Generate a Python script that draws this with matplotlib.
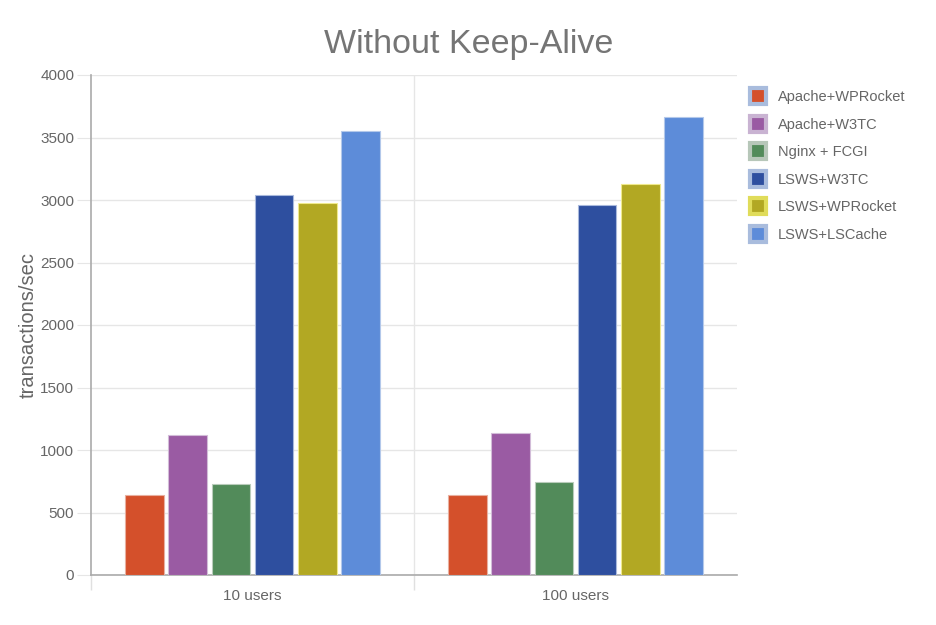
import matplotlib
matplotlib.use("Agg")
import matplotlib.pyplot as plt
from matplotlib.lines import Line2D
import numpy as np

plt.rcParams['font.family'] = ['Liberation Sans', 'DejaVu Sans']

categories = ["10 users", "100 users"]
series_names = ["Apache+WPRocket", "Apache+W3TC", "Nginx + FCGI",
                "LSWS+W3TC", "LSWS+WPRocket", "LSWS+LSCache"]
values = {
    "Apache+WPRocket": [640, 640],
    "Apache+W3TC": [1120, 1135],
    "Nginx + FCGI": [732, 744],
    "LSWS+W3TC": [3040, 2960],
    "LSWS+WPRocket": [2980, 3130],
    "LSWS+LSCache": [3552, 3664],
}
yticks = [0, 500, 1000, 1500, 2000, 2500, 3000, 3500, 4000]

colors = ["#d4502b", "#9a5ba3", "#528b5a", "#2e4f9f", "#b2a823", "#5d8cd9"]
edge_colors = ["#e8b0a0", "#d2bcd8", "#b9ccbb", "#a9b9dc", "#efe98c", "#b3c8ea"]
legend_edges = ["#a9bcdd", "#c9b3d2", "#b7c7b9", "#a9bcdd", "#e0dc5a", "#a9bcdd"]

fig = plt.figure(figsize=(9.37, 6.25), dpi=100)
ax = fig.add_axes([91/937, 1-575/625, (737-91)/937, (575-75)/625])

slot = 0.134
bw = 0.119
x = np.arange(len(categories))
n = len(series_names)
for i, name in enumerate(series_names):
    off = (i - (n-1)/2) * slot
    ax.bar(x + off, values[name], width=bw, color=colors[i],
           edgecolor=edge_colors[i], linewidth=0.8, zorder=3)

ax.set_xlim(-0.5, 1.5)
ax.set_ylim(0, 4000)
ax.set_yticks(yticks)
ax.set_yticklabels([str(t) for t in yticks])
ax.yaxis.grid(True, color="#e6e6e6", linewidth=1, zorder=0)
ax.axvline(0.5, color="#e6e6e6", linewidth=1, zorder=0)
ax.tick_params(axis='y', length=10, color="#e6e6e6", labelcolor="#666666",
               labelsize=11, pad=2)

ax.set_xticks([-0.5, 0.5])
ax.set_xticklabels(["", ""])
ax.tick_params(axis='x', length=11, color="#e0e0e0", width=1)
for xi, c in zip(x, categories):
    ax.text(xi, -0.043, c, transform=ax.get_xaxis_transform(),
            ha='center', va='center', fontsize=11, color="#666666")

for s in ['top', 'right']:
    ax.spines[s].set_visible(False)
ax.spines['left'].set_color("#aaaaaa")
ax.spines['bottom'].set_color("#aaaaaa")
ax.spines['left'].set_linewidth(1.2)
ax.spines['bottom'].set_linewidth(1.2)

ax.set_ylabel("transactions/sec", fontsize=14.5, color="#666666", labelpad=2)

fig.text(0.5, 1-45/625, "Without Keep-Alive", ha='center', va='center',
         fontsize=24.5, color="#757575")

handles = [Line2D([], [], linestyle='none', marker='s', markersize=11,
                  markerfacecolor=colors[i], markeredgecolor=legend_edges[i],
                  markeredgewidth=3) for i in range(n)]
leg = fig.legend(handles, series_names, loc='upper left',
                 bbox_to_anchor=(736/937, 1-77/625), frameon=False,
                 fontsize=10.5, labelspacing=0.93, handletextpad=0.75,
                 handlelength=1.2)
for t in leg.get_texts():
    t.set_color("#666666")

fig.savefig("out.png", dpi=100)
